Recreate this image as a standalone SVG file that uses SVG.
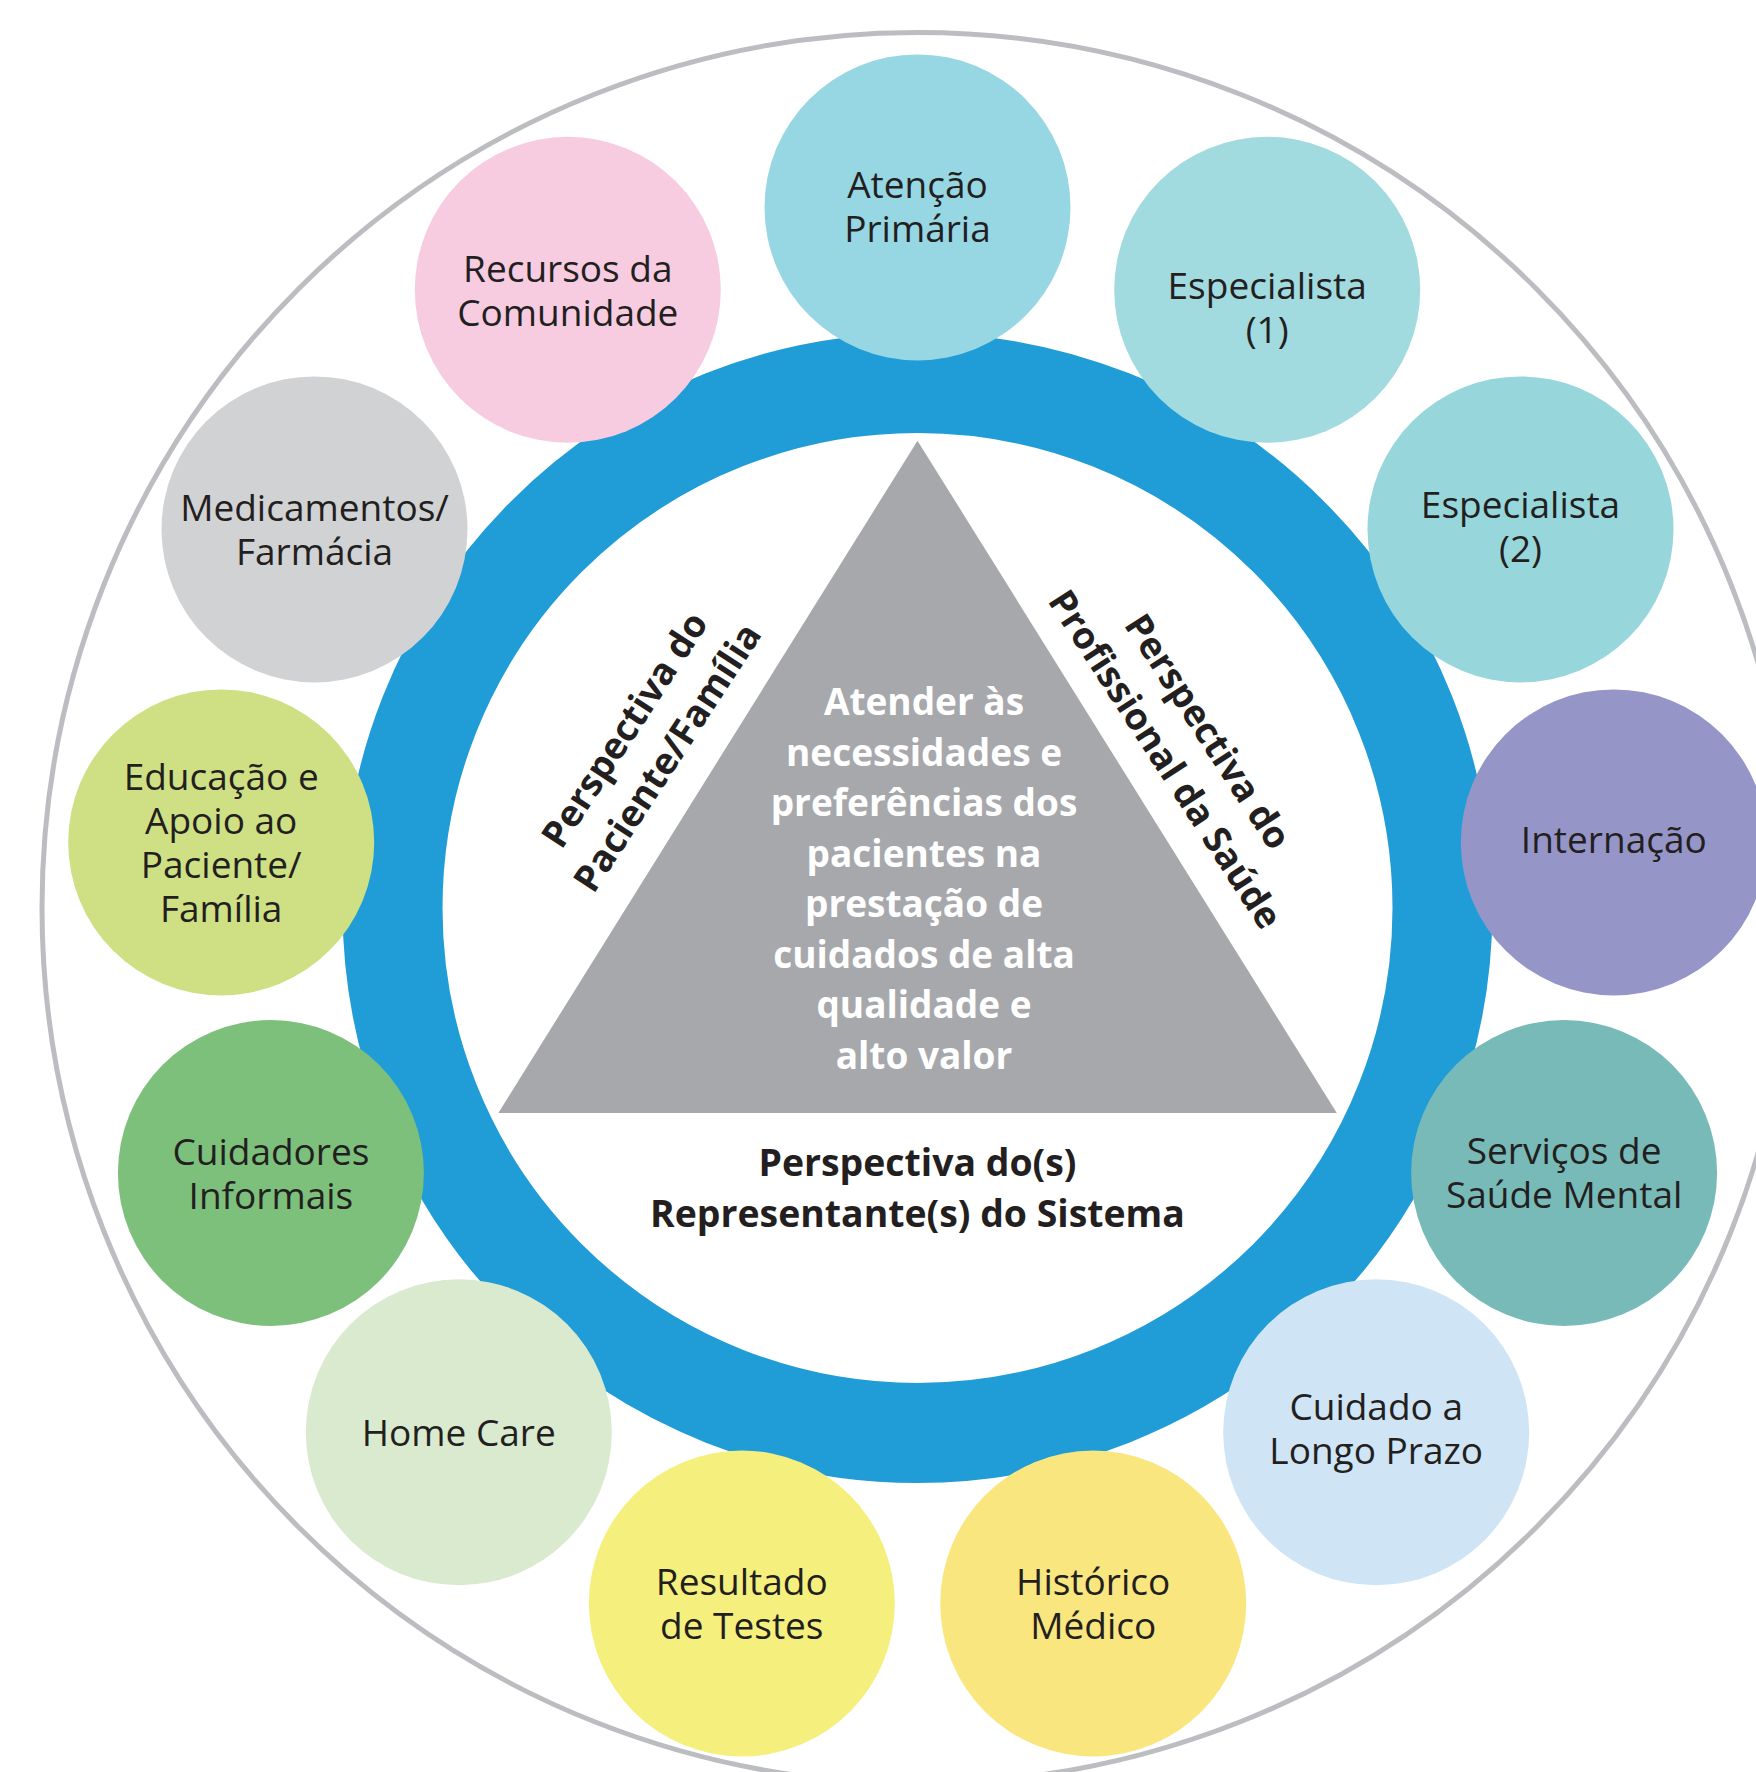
<svg xmlns="http://www.w3.org/2000/svg" width="1756" height="1772" viewBox="0 0 1756 1772">
<style>
.lbl{font-family:"Open Sans","Noto Sans","Liberation Sans",sans-serif;font-size:37px;fill:#231F20;text-anchor:middle}
.bold{font-family:"Open Sans","Noto Sans","Liberation Sans",sans-serif;font-size:37px;font-weight:700;text-anchor:middle}
.dark{fill:#231F20}
.white{fill:#FFFFFF}
</style>
<rect width="1756" height="1772" fill="#FFFFFF"/>
<g id="outer-ring"><circle cx="917.5" cy="908" r="875.5" fill="none" stroke="#BCBDC1" stroke-width="5"/></g>
<g id="blue-ring"><circle cx="917.5" cy="908" r="525" fill="none" stroke="#209CD7" stroke-width="100"/></g>
<g id="triangle">
<polygon points="917.5,440.7 498.3,1113 1336.8,1113" fill="#A7A8AC"/>
<text class="bold white"><tspan x="924" y="715">Atender às</tspan><tspan x="924" y="765.5">necessidades e</tspan><tspan x="924" y="816">preferências dos</tspan><tspan x="924" y="866.5">pacientes na</tspan><tspan x="924" y="917">prestação de</tspan><tspan x="924" y="967.5">cuidados de alta</tspan><tspan x="924" y="1018">qualidade e</tspan><tspan x="924" y="1068.5">alto valor</tspan></text>
</g>
<g id="persp-paciente"><text class="bold dark" transform="translate(646.7,744) rotate(-57)"><tspan x="0" y="-13.5">Perspectiva do</tspan><tspan x="0" y="37.5">Paciente/Família</tspan></text></g>
<g id="persp-profissional"><text class="bold dark" transform="translate(1185.9,745.9) rotate(57)"><tspan x="0" y="-13.5">Perspectiva do</tspan><tspan x="0" y="37.5">Profissional da Saúde</tspan></text></g>
<g id="persp-sistema"><text class="bold dark" style="font-size:37.4px"><tspan x="917.5" y="1176">Perspectiva do(s)</tspan><tspan x="917.5" y="1227">Representante(s) do Sistema</tspan></text></g>
<g id="connectors"></g>
<g id="n-atencao"><circle cx="917.5" cy="207.4" r="153" fill="#97D7E3"/><text class="lbl"><tspan x="917.5" y="198.4">Atenção</tspan><tspan x="917.5" y="242.4">Primária</tspan></text></g>
<g id="n-esp1"><circle cx="1267.2" cy="289.8" r="153" fill="#A1DADF"/><text class="lbl"><tspan x="1267.2" y="298.8">Especialista</tspan><tspan x="1267.2" y="342.8">(1)</tspan></text></g>
<g id="n-esp2"><circle cx="1520.5" cy="529.4" r="153" fill="#97D7DC"/><text class="lbl"><tspan x="1520.5" y="518.4">Especialista</tspan><tspan x="1520.5" y="562.4">(2)</tspan></text></g>
<g id="n-internacao"><circle cx="1613.8" cy="842.4" r="153" fill="#9595C8"/><text class="lbl" x="1613.8" y="853.4">Internação</text></g>
<g id="n-servicos"><circle cx="1564.1" cy="1173" r="153" fill="#78BAB8"/><text class="lbl"><tspan x="1564.1" y="1164">Serviços de</tspan><tspan x="1564.1" y="1208">Saúde Mental</tspan></text></g>
<g id="n-cuidado"><circle cx="1376.2" cy="1432.3" r="153" fill="#CFE5F5"/><text class="lbl"><tspan x="1376.2" y="1420">Cuidado a</tspan><tspan x="1376.2" y="1464">Longo Prazo</tspan></text></g>
<g id="n-historico"><circle cx="1093.2" cy="1603.5" r="153" fill="#FAE67E"/><text class="lbl"><tspan x="1093.2" y="1594.5">Histórico</tspan><tspan x="1093.2" y="1638.5">Médico</tspan></text></g>
<g id="n-resultado"><circle cx="741.8" cy="1603.5" r="153" fill="#F5F07E"/><text class="lbl"><tspan x="741.8" y="1594.5">Resultado</tspan><tspan x="741.8" y="1638.5">de Testes</tspan></text></g>
<g id="n-homecare"><circle cx="458.8" cy="1432.3" r="153" fill="#D9EACF"/><text class="lbl" x="458.8" y="1446.3">Home Care</text></g>
<g id="n-cuidadores"><circle cx="270.9" cy="1173" r="153" fill="#7CC07C"/><text class="lbl"><tspan x="270.9" y="1165">Cuidadores</tspan><tspan x="270.9" y="1209">Informais</tspan></text></g>
<g id="n-educacao"><circle cx="221.2" cy="842.4" r="153" fill="#CFDF84"/><text class="lbl"><tspan x="221.2" y="790.4">Educação e</tspan><tspan x="221.2" y="834.4">Apoio ao</tspan><tspan x="221.2" y="878.4">Paciente/</tspan><tspan x="221.2" y="922.4">Família</tspan></text></g>
<g id="n-medicamentos"><circle cx="314.5" cy="529.4" r="153" fill="#D1D2D4"/><text class="lbl"><tspan x="314.5" y="521.4">Medicamentos/</tspan><tspan x="314.5" y="565.4">Farmácia</tspan></text></g>
<g id="n-recursos"><circle cx="567.8" cy="289.8" r="153" fill="#F7CCE0"/><text class="lbl"><tspan x="567.8" y="281.8">Recursos da</tspan><tspan x="567.8" y="325.8">Comunidade</tspan></text></g>
</svg>
